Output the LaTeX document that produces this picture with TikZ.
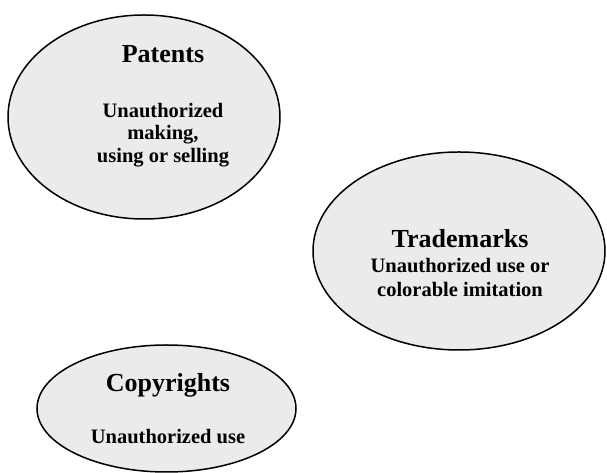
\documentclass[tikz,border=0pt]{standalone}
\usepackage{fontspec}
\setmainfont{Liberation Serif}
\usetikzlibrary{shapes.geometric}
\definecolor{ellfill}{HTML}{EBEBEB}
\tikzset{
  oval/.style={draw=black, line width=1.5pt, fill=ellfill},
  ttl/.style={font=\bfseries\fontsize{26}{28}\selectfont, anchor=base},
  body/.style={font=\bfseries\fontsize{20.5}{22.5}\selectfont, anchor=base, align=center}
}
\begin{document}
\begin{tikzpicture}[x=1pt,y=1pt]
\useasboundingbox (0,0) rectangle (607,473);
% Patents
\path[oval] (144,356) ellipse [x radius=136, y radius=102];
\node[ttl] (pt) at (163,410) {Patents};
\node[body] (pb1) at (163,355) {Unauthorized};
\node[body] (pb2) at (163,333) {making,};
\node[body] (pb3) at (163,310) {using or selling};
% Trademarks
\path[oval] (459,222) ellipse [x radius=146, y radius=99];
\node[ttl] (tt) at (460,225) {Trademarks};
\node[body] (tb1) at (460,200) {Unauthorized use or};
\node[body] (tb2) at (460,176) {colorable imitation};
% Copyrights
\path[oval] (166.5,64.5) ellipse [x radius=129.5, y radius=63.5];
\node[ttl] (ct) at (168,81) {Copyrights};
\node[body] (cb1) at (168,29) {Unauthorized use};
\end{tikzpicture}
\end{document}
